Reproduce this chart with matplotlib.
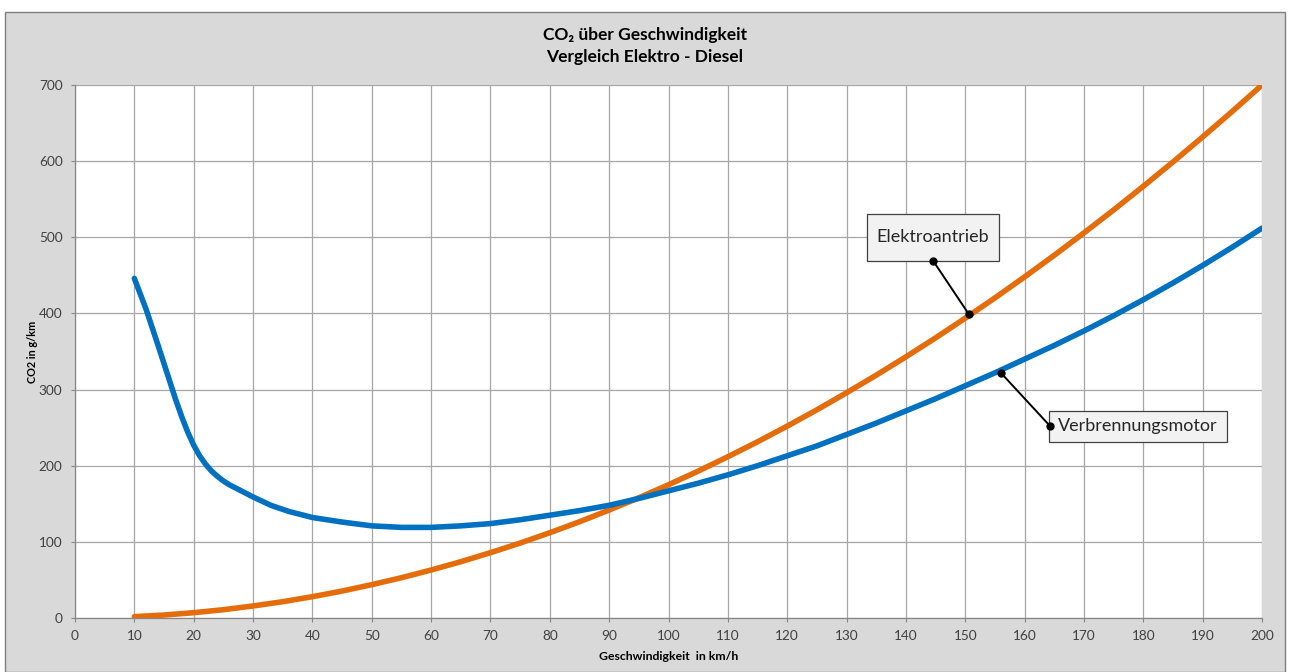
import numpy as np
import matplotlib
matplotlib.use('Agg')
import matplotlib.pyplot as plt
from matplotlib.patches import Rectangle

# Daten
v_elektro = [10, 15, 20, 25, 30, 35, 40, 45, 50, 55, 60, 65, 70, 75, 80, 85, 90, 95, 100,
             105, 110, 115, 120, 125, 130, 135, 140, 145, 150, 155, 160, 165, 170, 175, 180,
             185, 190, 195, 200]
co2_elektro = [1.8, 3.9, 7, 10.9, 15.8, 21.4, 28, 35.4, 43.8, 52.9, 63, 73.9, 85.8, 98.4, 112,
               126.4, 141.8, 157.9, 175, 192.9, 211.8, 231.4, 252, 273.4, 295.8, 318.9, 343,
               367.9, 393.8, 420.4, 448, 476.4, 505.8, 535.9, 567, 598.9, 631.8, 665.4, 700]

v_diesel = [10, 12, 14, 16, 17, 18, 19, 20, 21, 22, 23, 24, 25, 26, 27, 28, 30, 33, 36, 40,
            45, 50, 55, 60, 65, 70, 75, 80, 85, 90, 95, 100, 105, 110, 115, 120, 125, 130,
            135, 140, 145, 150, 155, 160, 165, 170, 175, 180, 185, 190, 195, 200]
co2_diesel = [446, 405, 358, 310, 286, 264, 244, 227, 213, 202, 193, 186, 180, 175, 171, 167,
              159, 148, 140, 132, 126, 121, 119, 119, 121, 124, 129, 135, 141, 148, 157, 167,
              177, 188, 200, 213, 226, 241, 256, 272, 288, 305, 322, 340, 358, 377, 397, 418,
              440, 463, 487, 512]

x_ticks = list(range(0, 201, 10))
y_ticks = list(range(0, 701, 100))

# Beschriftungen: Text, Punkt auf Kurve, Punkt am Kasten, Kasten (x0, x1, y0, y1)
label_elektro = ('Elektroantrieb', (150.6, 399), (144.6, 469), (133.4, 155.7, 468.9, 530.6))
label_diesel = ('Verbrennungsmotor', (156.0, 322), (164.3, 252), (164.1, 194.1, 231.2, 271.9))

col_orange = '#E46C0A'
col_blue = '#0070C0'
col_grid = '#a6a6a6'
col_tick = '#404040'

plt.rcParams['font.family'] = ['Lato', 'DejaVu Sans']

fig = plt.figure(figsize=(12.9, 6.72), dpi=100)
fig.patch.set_facecolor('white')

# grauer Diagrammbereich
bg = Rectangle((5 / 1290, 0), 1280 / 1290, 660 / 672, transform=fig.transFigure,
               facecolor='#d9d9d9', edgecolor='#7f7f7f', linewidth=1, zorder=-10)
fig.patches.append(bg)

ax = fig.add_axes([75 / 1290, 54 / 672, 1187 / 1290, 533 / 672])
ax.set_facecolor('white')

ax.plot(v_elektro, co2_elektro, color=col_orange, lw=4, solid_capstyle='round',
        solid_joinstyle='round', zorder=3)
ax.plot(v_diesel, co2_diesel, color=col_blue, lw=4, solid_capstyle='round',
        solid_joinstyle='round', zorder=4)

ax.set_xlim(0, 200)
ax.set_ylim(0, 700)
ax.set_xticks(x_ticks)
ax.set_yticks(y_ticks)
ax.grid(True, color=col_grid, lw=0.9)
ax.set_axisbelow(True)
for s in ['top', 'right']:
    ax.spines[s].set_visible(False)
for s in ['left', 'bottom']:
    ax.spines[s].set_color('#868686')
    ax.spines[s].set_linewidth(0.9)
ax.tick_params(direction='out', length=3, width=0.8, color='#868686',
               labelsize=9.8, labelcolor=col_tick)
ax.tick_params(axis='x', pad=6)
ax.tick_params(axis='y', pad=6)

ax.set_xlabel('Geschwindigkeit  in km/h', fontsize=8.8, fontweight='bold')
ax.set_ylabel('CO2 in g/km', fontsize=7.8, fontweight='bold')
ax.xaxis.set_label_coords(0.5, (618 - 657) / 533)
ax.yaxis.set_label_coords((32 - 75) / 1187, 0.5)
ax.xaxis.label.set_va('center')
ax.yaxis.label.set_va('center')

fig.text(0.5, 1 - 35 / 672, 'CO₂ über Geschwindigkeit', ha='center', va='center',
         fontsize=12.5, fontweight='bold')
fig.text(0.5, 1 - 57 / 672, 'Vergleich Elektro - Diesel', ha='center', va='center',
         fontsize=12.5, fontweight='bold')

# Datenbeschriftungen
for txt, p_curve, p_box, (x0, x1, y0, y1) in [label_elektro, label_diesel]:
    ax.plot([p_curve[0], p_box[0]], [p_curve[1], p_box[1]], color='black', lw=1.4, zorder=5)
    ax.add_patch(Rectangle((x0, y0), x1 - x0, y1 - y0, facecolor='#f2f2f2',
                           edgecolor='#404040', linewidth=0.9, zorder=6))
    ax.plot([p_curve[0], p_box[0]], [p_curve[1], p_box[1]], 'o', color='black', ms=5, zorder=7)
    ax.text((x0 + x1) / 2, (y0 + y1) / 2, txt, ha='center', va='center', fontsize=13,
            color='#262626', zorder=8)

fig.savefig('out.png', dpi=100)
